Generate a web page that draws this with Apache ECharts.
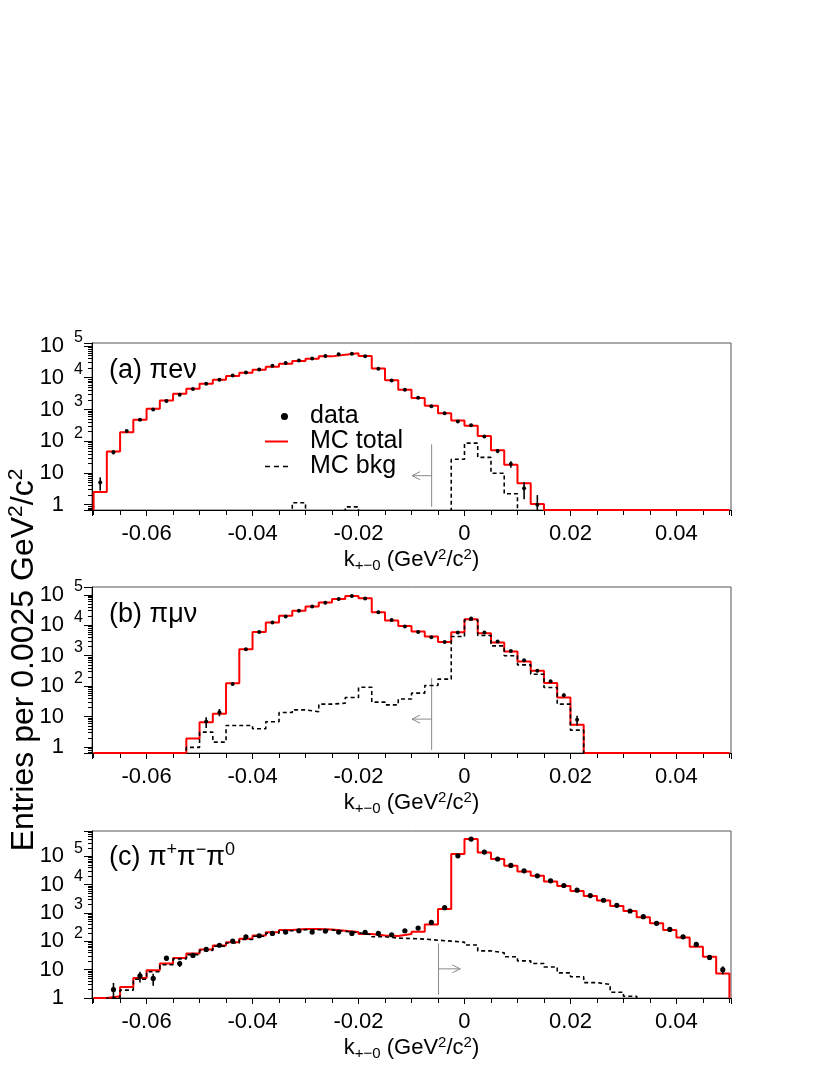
<!DOCTYPE html>
<html>
<head>
<meta charset="utf-8">
<script src="https://cdn.jsdelivr.net/npm/echarts@6.0.0/dist/echarts.min.js"></script>
<style>
  html, body { margin: 0; padding: 0; background: #fff; }
  #chart { width: 830px; height: 1075px; }
</style>
</head>
<body>
<div id="chart"></div>
<script>
// histogram bins: 0.0025 GeV^2/c^2 wide, first low edge at -0.07
const binStart = -0.07;
const binWidth = 0.0025;

// (a) pi e nu
const totalA = [2.5, 47, 192, 470, 1050, 1920, 3100, 4500, 6450, 8700, 11300, 14400, 17800, 22300, 27600, 33600,
  39700, 47000, 53300, 58600, 48000, 19600, 8300, 4200, 2290, 1310, 760, 450, 305, 147, 52, 18, 4.7, 1.05,
  0, 0, 0, 0, 0, 0, 0, 0, 0, 0, 0, 0, 0, 0];
const dataA = [5, 45, 208, 470, 1000, 1830, 2900, 4400, 6450, 8700, 11800, 14700, 18300, 24000, 29000, 35000,
  40600, 48000, 54500, 57000, 47000, 19200, 8100, 4200, 2340, 1270, 760, 420, 320, 140, 49, 19, 3.3, 1,
  0, 0, 0, 0, 0, 0, 0, 0, 0, 0, 0, 0, 0, 0];
const bkgA = [0, 0, 0, 0, 0, 0, 0, 0, 0, 0, 0, 0, 0, 0, 0, 1.15, 0, 0, 0, 0.85, 0, 0, 0, 0, 0, 0, 0,
  27, 87, 31, 9.8, 2.2, 0, 0, 0, 0, 0, 0, 0, 0, 0, 0, 0, 0, 0, 0, 0, 0];

// (b) pi mu nu
const totalB = [0, 0, 0, 0, 0, 0, 0, 1.9, 6.6, 12.4, 125, 1630, 6000, 12200, 20300, 30000, 41000, 55500,
  73000, 91000, 77000, 26700, 14200, 9500, 6200, 4260, 2830, 5900, 15800, 5480, 2700, 1370, 645, 318, 126,
  42.6, 5.4, 0, 0, 0, 0, 0, 0, 0, 0, 0, 0, 0];
const dataB = [0, 0, 0, 0, 0, 0, 0, 0, 6.9, 14, 117, 1630, 6000, 12200, 19200, 30000, 41000, 55000, 73000,
  91000, 75000, 26700, 14900, 9100, 6000, 4000, 2830, 5750, 16600, 5750, 2900, 1440, 710, 318, 146, 50, 7.9,
  0, 0, 0, 0, 0, 0, 0, 0, 0, 0, 0];
const bkgB = [0, 0, 0, 0, 0, 0, 0, 0.98, 3.1, 1.46, 5.1, 5.1, 4.0, 6.8, 13.7, 16.7, 14.4, 25.7, 27.7, 42.5,
  92, 30, 24.4, 38, 59, 105, 170, 4260, 14900, 4600, 2100, 1000, 500, 247, 90, 25.7, 3.6,
  0, 0, 0, 0, 0, 0, 0, 0, 0, 0, 0];

// (c) pi+ pi- pi0
const totalC = [0, 1.15, 2.45, 5.1, 9.6, 16.5, 26, 37, 52, 72, 94, 123, 162, 208, 251, 271, 271, 265, 238,
  213, 181, 162, 154, 181, 218, 397, 1390, 121000, 409000, 138000, 81000, 46500, 29300, 20600, 13000, 9100,
  6000, 4000, 2750, 1780, 1180, 705, 433, 251, 138, 64, 28.5, 7.3];
const dataC = [0, 2.0, 0, 6.0, 4.9, 25.5, 16.5, 32, 52, 73, 103, 145, 158, 190, 213, 237, 213, 231, 213,
  190, 208, 190, 171, 237, 295, 468, 1550, 105000, 409000, 142000, 81000, 48000, 31000, 20600, 13700, 9400,
  6400, 4150, 2830, 1880, 1180, 745, 433, 265, 145, 78, 27, 10];
const bkgC = [0, 1.0, 1.9, 4.6, 8.5, 15, 24, 34, 48, 67, 88, 116, 152, 196, 238, 258, 258, 252, 226, 202,
  172, 145, 131, 126, 120, 110, 102, 94, 74, 46, 39.5, 28.5, 20.5, 16.5, 12.5, 7.7, 5.6, 3.5, 3.0, 1.6, 1.15,
  0, 0, 0, 0, 0, 0, 0];

// cut markers: [k of cut, line top, line bottom, arrow height, arrow tip k]
const cutA = [-0.0062, 80, 0.86, 8.2, -0.0099];
const cutB = [-0.0062, 187, 0.81, 8.3, -0.0099];
const cutC = [-0.0049, 85, 1.32, 10.7, -0.0008];

const xRange = [-0.0703, 0.0503];
const fontFamily = '"Liberation Sans", Arial, Helvetica, sans-serif';

const panels = [
  { total: totalA, data: dataA, bkg: bkgA, cut: cutA, yMin: 0.68, yMax: 1.24e5, top: 343, height: 167,
    label: '(a) πeν', labelTop: 352, dotR: 2 },
  { total: totalB, data: dataB, bkg: bkgB, cut: cutB, yMin: 0.64, yMax: 1.8e5, top: 587, height: 166,
    label: '(b) πμν', labelTop: 596, dotR: 2 },
  { total: totalC, data: dataC, bkg: bkgC, cut: cutC, yMin: 1, yMax: 7.9e5, top: 831, height: 167,
    label: '(c) π{sp|+}π{sp|−}π{sp|0}', labelTop: 836, dotR: 2.6 }
];

const edge = i => Number((binStart + i * binWidth).toFixed(5));

// histogram outline; empty bins go to `floor`
function stepPoints(vals, floor) {
  const n = vals.length;
  const pts = [[edge(0), floor]];
  vals.forEach((v, i) => pts.push([edge(i), Math.max(v, floor)]));
  pts.push([edge(n), Math.max(vals[n - 1], floor)]);
  pts.push([edge(n), floor]);
  return pts;
}

function yLabel(v) {
  const e = Math.log10(v);
  const r = Math.round(e);
  if (Math.abs(e - r) > 0.01) return '';
  if (r === 0) return '{b|1}{e| }';
  if (r === 1) return '{b|10}{e| }';
  return '{b|10}{s|' + r + '}';
}

function xLabel(v) {
  const r = Math.round(v / 0.02);
  if (Math.abs(v - r * 0.02) > 1e-6) return '';
  return r === 0 ? '0' : (r * 0.02).toFixed(2);
}

const grid = [], xAxis = [], yAxis = [], series = [], title = [];

panels.forEach((p, k) => {
  grid.push({ left: 92, right: 99, top: p.top, height: p.height, show: true,
    borderColor: '#555', borderWidth: 1, backgroundColor: 'transparent' });

  xAxis.push({
    type: 'value', gridIndex: k, min: xRange[0], max: xRange[1],
    name: 'k{sub|+−0} (GeV{sup|2}/c{sup|2})',
    nameLocation: 'middle', nameGap: 36,
    nameTextStyle: { fontSize: 22, color: '#000', fontFamily: fontFamily,
      rich: { sub: { fontSize: 15, padding: [12, 0, 0, 0] }, sup: { fontSize: 15, padding: [0, 0, 10, 0] } } },
    axisLine: { onZero: false, lineStyle: { color: '#000', width: 1 } },
    axisTick: { length: 6, lineStyle: { color: '#000' } },
    minorTick: { show: true, splitNumber: 4, length: 5, lineStyle: { color: '#000' } },
    splitLine: { show: false },
    axisLabel: { fontSize: 22, color: '#000', fontFamily: fontFamily, margin: 13, formatter: xLabel }
  });

  yAxis.push({
    type: 'log', logBase: 10, gridIndex: k, min: p.yMin, max: p.yMax,
    axisLine: { onZero: false, lineStyle: { color: '#000', width: 1 } },
    axisTick: { length: 8, lineStyle: { color: '#000' } },
    minorTick: { show: true, splitNumber: 9, length: 4, lineStyle: { color: '#000' } },
    splitLine: { show: false },
    axisLabel: {
      margin: 9, color: '#000', fontFamily: fontFamily, formatter: yLabel,
      rich: {
        b: { fontSize: 22, fontFamily: fontFamily, color: '#000' },
        s: { fontSize: 16, fontFamily: fontFamily, color: '#000', padding: [0, 0, 16, 10] },
        e: { fontSize: 16, width: 19 }
      }
    }
  });

  title.push({
    text: p.label, left: 104, top: p.labelTop,
    textStyle: { fontSize: 27, fontWeight: 'normal', color: '#000', fontFamily: fontFamily,
      rich: { sp: { fontSize: 18, fontFamily: fontFamily, color: '#000', padding: [0, 0, 16, 0] } } }
  });

  series.push({
    name: 'MC total', type: 'line', xAxisIndex: k, yAxisIndex: k, step: 'end',
    symbol: 'none', data: stepPoints(p.total, p.yMin),
    lineStyle: { color: '#ff0000', width: 2 }, itemStyle: { color: '#ff0000' }, z: 3
  });
  // empty background bins are pushed just below the frame so they are clipped away
  series.push({
    name: 'MC bkg', type: 'line', xAxisIndex: k, yAxisIndex: k, step: 'end',
    symbol: 'none', data: stepPoints(p.bkg, p.yMin * 0.8),
    lineStyle: { color: '#000', width: 1.6, type: [4, 3] }, itemStyle: { color: '#000' }, z: 4
  });

  const yMin = p.yMin, r = p.dotR;
  series.push({
    name: 'data', type: 'custom', xAxisIndex: k, yAxisIndex: k, z: 5,
    itemStyle: { color: '#000' },
    encode: { x: 0, y: 1 },
    data: p.data.map((v, i) => [edge(i) + binWidth / 2, v]).filter(d => d[1] > 0),
    renderItem: function (params, api) {
      const x = api.value(0), y = api.value(1);
      const err = Math.sqrt(y);
      const c = api.coord([x, y]);
      const hi = api.coord([x, y + err]);
      const lo = api.coord([x, Math.max(y - err, yMin)]);
      return {
        type: 'group', children: [
          { type: 'line', shape: { x1: c[0], y1: hi[1], x2: c[0], y2: lo[1] }, style: { stroke: '#000', lineWidth: 1.6 } },
          { type: 'circle', shape: { cx: c[0], cy: c[1], r: r }, style: { fill: '#000' } }
        ]
      };
    }
  });

  series.push({
    name: 'cut', type: 'custom', xAxisIndex: k, yAxisIndex: k, silent: true, z: 2,
    data: [p.cut],
    renderItem: function (params, api) {
      const top = api.coord([api.value(0), api.value(1)]);
      const bot = api.coord([api.value(0), api.value(2)]);
      const mid = api.coord([api.value(0), api.value(3)]);
      const tip = api.coord([api.value(4), api.value(3)]);
      const dir = Math.sign(tip[0] - mid[0]);
      const st = { stroke: '#8a8a8a', lineWidth: 1, fill: null };
      return {
        type: 'group', children: [
          { type: 'line', shape: { x1: top[0], y1: top[1], x2: bot[0], y2: bot[1] }, style: st },
          { type: 'line', shape: { x1: mid[0], y1: mid[1], x2: tip[0], y2: tip[1] }, style: st },
          { type: 'polyline', shape: { points: [[tip[0] - dir * 8, tip[1] - 4], [tip[0], tip[1]], [tip[0] - dir * 8, tip[1] + 4]] }, style: st }
        ]
      };
    }
  });
});

const chart = echarts.init(document.getElementById('chart'), null, { renderer: 'canvas' });
chart.setOption({
  animation: false,
  backgroundColor: '#fff',
  title: title,
  grid: grid,
  xAxis: xAxis,
  yAxis: yAxis,
  legend: {
    orient: 'vertical', left: 260, top: 399, itemWidth: 23, itemHeight: 8, itemGap: 0,
    selectedMode: false,
    textStyle: { fontSize: 25, color: '#000', fontFamily: fontFamily, lineHeight: 25, padding: [0, 0, 0, 17] },
    data: [
      { name: 'data', icon: 'path://M0,4L0.01,4M18,4a4,4 0 1,0 8,0a4,4 0 1,0 -8,0z' },
      { name: 'MC total', icon: 'path://M0,0h23v2h-23z', itemStyle: { color: '#ff0000' } },
      { name: 'MC bkg', icon: 'path://M0,0h5v1.6h-5zM9,0h5v1.6h-5zM18,0h5v1.6h-5z', itemStyle: { color: '#000' } }
    ]
  },
  graphic: [{
    type: 'text', x: 24, y: 660, rotation: Math.PI / 2,
    style: {
      text: 'Entries per 0.0025 GeV{sp|2}/c{sp|2}',
      fontSize: 32, fontFamily: fontFamily, fill: '#000', align: 'center', verticalAlign: 'middle',
      rich: { sp: { fontSize: 21, fontFamily: fontFamily, fill: '#000', padding: [0, 0, 16, 0] } }
    }
  }],
  series: series
});
</script>
</body>
</html>
